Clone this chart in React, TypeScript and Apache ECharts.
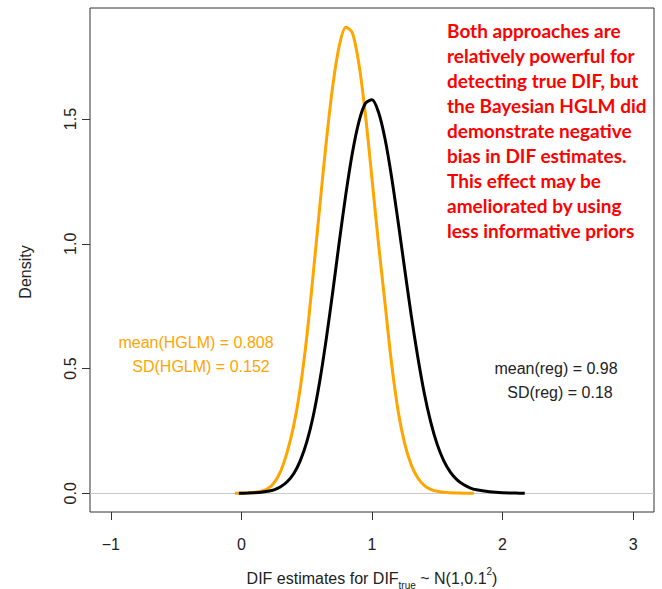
import React, { useEffect, useRef } from "react";
import * as echarts from "echarts";

// HGLM (orange) density estimate
const hglmX = [-0.05, 0.0, 0.05, 0.1, 0.15, 0.2, 0.25, 0.3, 0.35, 0.4, 0.45, 0.5, 0.55, 0.6, 0.65, 0.7, 0.75, 0.8, 0.85, 0.9, 0.95, 1.0, 1.05, 1.1, 1.15, 1.2, 1.25, 1.3, 1.35, 1.4, 1.45, 1.5, 1.55, 1.6, 1.65, 1.7, 1.78];
const hglmY = [0.0, 0.001, 0.002, 0.004, 0.008, 0.018, 0.042, 0.088, 0.165, 0.27, 0.42, 0.625, 0.88, 1.15, 1.41, 1.635, 1.795, 1.868, 1.845, 1.72, 1.515, 1.26, 1.0, 0.76, 0.52, 0.33, 0.2, 0.115, 0.062, 0.032, 0.016, 0.008, 0.004, 0.002, 0.001, 0.0005, 0.0];

// Regression (black) density estimate
const regX = [-0.02, 0.05, 0.1, 0.15, 0.2, 0.25, 0.3, 0.35, 0.4, 0.45, 0.5, 0.55, 0.6, 0.65, 0.7, 0.75, 0.8, 0.85, 0.9, 0.95, 1.0, 1.05, 1.1, 1.15, 1.2, 1.25, 1.3, 1.35, 1.4, 1.45, 1.5, 1.55, 1.6, 1.65, 1.7, 1.75, 1.8, 1.9, 2.0, 2.1, 2.17];
const regY = [0.0, 0.001, 0.002, 0.004, 0.008, 0.014, 0.026, 0.046, 0.078, 0.13, 0.205, 0.31, 0.45, 0.62, 0.81, 1.01, 1.2, 1.365, 1.49, 1.563, 1.577, 1.527, 1.42, 1.268, 1.088, 0.9, 0.715, 0.548, 0.402, 0.285, 0.195, 0.13, 0.085, 0.055, 0.035, 0.022, 0.014, 0.006, 0.002, 0.001, 0.0];

const xTicks = [-1, 0, 1, 2, 3];
const yTicks = [0, 0.5, 1.0, 1.5];
const xRange = [-1.16, 3.16];
const yRange = [-0.075, 1.945];

const noteLines = [
  "Both approaches are",
  "relatively powerful for",
  "detecting true DIF, but",
  "the Bayesian HGLM did",
  "demonstrate negative",
  "bias in DIF estimates.",
  "This effect may be",
  "ameliorated by using",
  "less informative priors",
];

const FONT = "'Liberation Sans', Arial, sans-serif";
const FS = 16;

export default function App() {
  const ref = useRef<HTMLDivElement>(null);
  useEffect(() => {
    if (!ref.current) return;
    const chart = echarts.init(ref.current, undefined, { renderer: "svg" });
    const hglm = hglmX.map((x, i) => [x, hglmY[i]]);
    const reg = regX.map((x, i) => [x, regY[i]]);
    chart.setOption({
      animation: false,
      backgroundColor: "#fff",
      grid: {
        left: 90,
        right: 8,
        top: 8,
        bottom: 77,
        show: true,
        borderColor: "#333",
        borderWidth: 1,
        backgroundColor: "transparent",
      },
      xAxis: {
        type: "value",
        min: xRange[0],
        max: xRange[1],
        splitLine: { show: false },
        axisLine: { show: false, onZero: false },
        axisTick: {
          show: true,
          inside: false,
          length: 8,
          customValues: xTicks,
          lineStyle: { color: "#333", width: 1 },
        },
        axisLabel: {
          customValues: xTicks,
          margin: 24,
          fontSize: FS,
          fontFamily: FONT,
          color: "#222",
          formatter: (v: number) => String(v).replace("-", "\u2212"),
        },
      },
      yAxis: {
        type: "value",
        min: yRange[0],
        max: yRange[1],
        splitLine: { show: false },
        axisLine: { show: false, onZero: false },
        axisTick: {
          show: true,
          inside: false,
          length: 8,
          customValues: yTicks,
          lineStyle: { color: "#333", width: 1 },
        },
        axisLabel: {
          customValues: yTicks,
          rotate: 90,
          margin: 12,
          fontSize: FS,
          fontFamily: FONT,
          color: "#222",
          formatter: (v: number) => v.toFixed(1),
        },
      },
      series: [
        {
          type: "line",
          name: "HGLM",
          data: hglm,
          smooth: 0.3,
          showSymbol: false,
          lineStyle: { color: "#FFA500", width: 3 },
          itemStyle: { color: "#FFA500" },
          z: 3,
          markLine: {
            silent: true,
            symbol: "none",
            label: { show: false },
            lineStyle: { color: "#c8c8c8", width: 1, type: "solid" },
            data: [{ yAxis: 0 }],
            z: 1,
          },
        },
        {
          type: "line",
          name: "reg",
          data: reg,
          smooth: 0.3,
          showSymbol: false,
          lineStyle: { color: "#000", width: 3 },
          itemStyle: { color: "#000" },
          z: 4,
        },
      ],
      graphic: [
        {
          type: "text",
          x: 25,
          y: 272,
          rotation: Math.PI / 2,
          style: {
            text: "Density",
            fontSize: FS,
            fontFamily: FONT,
            fill: "#222",
            align: "center",
            verticalAlign: "middle",
          },
        },
        {
          type: "text",
          x: 372,
          y: 578,
          style: {
            text: "DIF estimates for DIF{sub|true} ~ N(1,0.1{sup|2})",
            fontSize: FS,
            fontFamily: FONT,
            fill: "#222",
            align: "center",
            verticalAlign: "middle",
            lineHeight: 24,
            rich: {
              sub: { fontSize: 10, fontFamily: FONT, fill: "#222", verticalAlign: "bottom", lineHeight: 24 },
              sup: { fontSize: 10, fontFamily: FONT, fill: "#222", verticalAlign: "top", lineHeight: 24 },
            },
          },
        },
        {
          type: "text",
          x: 196,
          y: 342,
          style: {
            text: "mean(HGLM) = 0.808",
            fontSize: FS,
            fontFamily: FONT,
            fill: "#FFA500",
            align: "center",
            verticalAlign: "middle",
          },
        },
        {
          type: "text",
          x: 201,
          y: 366,
          style: {
            text: "SD(HGLM) = 0.152",
            fontSize: FS,
            fontFamily: FONT,
            fill: "#FFA500",
            align: "center",
            verticalAlign: "middle",
          },
        },
        {
          type: "text",
          x: 556,
          y: 368,
          style: {
            text: "mean(reg) = 0.98",
            fontSize: FS,
            fontFamily: FONT,
            fill: "#222",
            align: "center",
            verticalAlign: "middle",
          },
        },
        {
          type: "text",
          x: 560,
          y: 392,
          style: {
            text: "SD(reg) = 0.18",
            fontSize: FS,
            fontFamily: FONT,
            fill: "#222",
            align: "center",
            verticalAlign: "middle",
          },
        },
        {
          type: "text",
          x: 447,
          y: 17.5,
          style: {
            text: noteLines.join("\n"),
            fontSize: 19,
            fontWeight: "bold",
            fontFamily: "Lato, 'Open Sans', sans-serif",
            fill: "#FF0000",
            align: "left",
            verticalAlign: "top",
            lineHeight: 25,
          },
        },
      ],
    });
    return () => chart.dispose();
  }, []);
  return (
    <div
      ref={ref}
      style={{ position: "absolute", left: 0, top: 0, width: 662, height: 589 }}
    />
  );
}
